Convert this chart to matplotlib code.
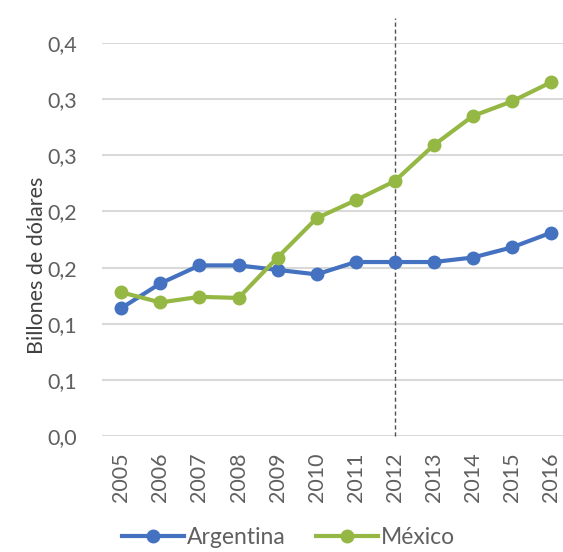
import matplotlib.pyplot as plt

# data
years = [2005, 2006, 2007, 2008, 2009, 2010, 2011, 2012, 2013, 2014, 2015, 2016]
argentina = [0.114, 0.136, 0.152, 0.152, 0.148, 0.144, 0.155, 0.155, 0.155, 0.159, 0.168, 0.181]
mexico = [0.128, 0.119, 0.124, 0.123, 0.159, 0.194, 0.210, 0.227, 0.259, 0.285, 0.298, 0.315]
y_ticks = [0.0, 0.05, 0.10, 0.15, 0.20, 0.25, 0.30, 0.35]
y_tick_labels = ['0,0', '0,1', '0,1', '0,2', '0,2', '0,3', '0,3', '0,4']
marker_year = 2012

plt.rcParams['font.family'] = ['Lato', 'DejaVu Sans']

fig = plt.figure(figsize=(5.63, 5.52), dpi=100)
ax = fig.add_axes([0.181, 0.210, 0.832, 0.712])

x = list(range(len(years)))
blue = '#4472c0'
green = '#95b744'

ax.plot(x, argentina, color=blue, lw=3, marker='o', ms=9, label='Argentina', zorder=3)
ax.plot(x, mexico, color=green, lw=3, marker='o', ms=9, label='México', zorder=3)

# vertical dashed line at 2012
xi = years.index(marker_year)
ax.plot([xi, xi], [0, 0.372], color='#505050', lw=1, ls=(0, (3, 2)), clip_on=False, zorder=2)

ax.set_xlim(-0.5, len(years) - 0.5)
ax.set_ylim(0, 0.35)
ax.set_yticks(y_ticks)
ax.set_yticklabels(y_tick_labels)
ax.set_xticks(x)
ax.set_xticklabels([str(y) for y in years], rotation=90)

ax.grid(axis='y', color='#d9d9d9', lw=1.5)
ax.set_axisbelow(True)
for s in ax.spines.values():
    s.set_visible(False)
ax.tick_params(length=0, colors='#606060', labelsize=15.5)
ax.tick_params(axis='y', pad=18)
ax.tick_params(axis='x', pad=12)

ax.set_ylabel('Billones de dólares', fontsize=15.5, color='#404040')
ax.yaxis.set_label_coords(-0.118, 0.435)

leg = fig.legend(loc='center left', bbox_to_anchor=(122 / 563, 14 / 552), ncol=2, frameon=False,
                 fontsize=16.5, handlelength=2.7, columnspacing=1.3, handletextpad=0.15,
                 borderpad=0, borderaxespad=0, labelcolor='#606060')

fig.savefig('out.png', dpi=100)
